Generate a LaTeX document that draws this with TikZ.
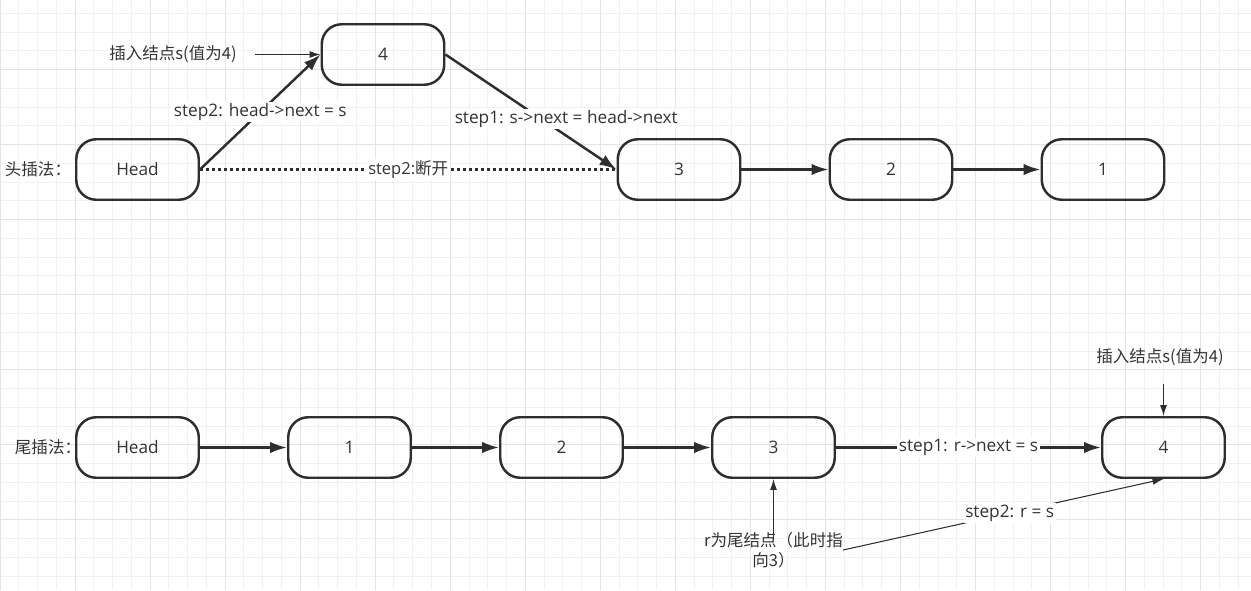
\documentclass[tikz,border=0pt]{standalone}
\usepackage{fontspec}
\setmainfont{Noto Sans CJK SC}
\newfontfamily\latinfont{Open Sans}
\usepackage{tikz}
\usetikzlibrary{arrows.meta, positioning}
\definecolor{linecol}{RGB}{46,46,46}
\definecolor{textcol}{RGB}{51,51,51}
\definecolor{gridminor}{RGB}{241,241,241}
\definecolor{gridmajor}{RGB}{228,228,228}
\tikzset{>={Latex[width=2.3mm,length=3.4mm]}}
\tikzset{
	listnode/.style={draw=linecol, line width=1.4pt, rounded corners=0.4cm, minimum width=2.45cm, minimum height=1.21cm, text=textcol, font=\latinfont\fontsize{9.8pt}{11.3pt}\selectfont},
	notelabel/.style={text=textcol, fill=white, inner sep=1pt, font=\latinfont\fontsize{9.8pt}{11.3pt}\selectfont},
	edgeline/.style={color=linecol, line width=1.4pt},
	thinarrow/.style={draw=linecol, line width=0.6pt, -{Latex[width=1.4mm,length=2.2mm]}}
}

\begin{document}
\begin{tikzpicture}[on grid, node distance = 4.24cm, font=\fontsize{9.4pt}{11.3pt}\selectfont]
			\useasboundingbox (0,0) rectangle (25.02,-11.8);
			\foreach \i in {0,...,66} \draw[gridminor, line width=0.55pt] (\i*0.3752,0) -- (\i*0.3752,-11.8);
			\foreach \k in {0,...,30} \draw[gridminor, line width=0.55pt] (0,-0.266-\k*0.3752) -- (25.02,-0.266-\k*0.3752);
			\foreach \i in {0,...,16} \draw[gridmajor, line width=0.55pt] (\i*1.5008,0) -- (\i*1.5008,-11.8);
			\foreach \k in {0,...,6} \draw[gridmajor, line width=0.55pt] (0,-1.386-\k*1.5008) -- (25.02,-1.386-\k*1.5008);

			\node (head) [listnode] at (2.75,-3.39) {Head};
			\node (four) [listnode, above right = 2.3cm and 4.91cm of head] {4};
			\node (three) [listnode, right = 10.83cm of head] {3};
			\node (two) [listnode, right = of three] {2};
			\node (one) [listnode, right = of two] {1};
			\node (headlabel) [text=textcol, left = 1.99cm of head] {头插法：};
			\node (insertlabel) [text=textcol, minimum width=3.28cm, left = 4.2cm of four] {插入结点s(值为4)};

			\node (thead) [listnode, below = 5.56cm of head] {Head};
			\node (tone) [listnode, right = of thead] {1};
			\node (ttwo) [listnode, right = of tone] {2};
			\node (tthree) [listnode, right = of ttwo] {3};
			\node (tfour) [listnode, right = 7.8cm of tthree] {4};
			\node (tailabel) [text=textcol, left = 1.79cm of thead] {尾插法：};
			\node (tinsert) [text=textcol, minimum height=1.08cm, above = 1.81cm of tfour, xshift=-0.07cm] {插入结点s(值为4)};
			\node (rlabel) [text=textcol, align=center, inner sep=0pt, below = 2.05cm of tthree] {r为尾结点（此时指\\向3）};

			\path[->, edgeline]
			(head.east) edge node [notelabel] {step2: head->next = s} (four.west)
			(four.east) edge node [notelabel, pos = 0.56, xshift = 0.5cm] {step1: s->next = head->next} (three.west)
			(three) edge (two)
			(two) edge (one)
			(thead) edge (tone)
			(tone) edge (ttwo)
			(ttwo) edge (tthree)
			(tthree) edge node [notelabel] {step1: r->next = s} (tfour);
			\draw[edgeline, dash pattern=on 1.7pt off 1.7pt] (head.east) -- node [notelabel, font=\fontsize{9.4pt}{11.3pt}\selectfont] {{\latinfont step2:}断开} (three.west);

			\draw[thinarrow] (insertlabel.east) -- (four.west);
			\draw[thinarrow] (tinsert.south -| tfour.north) -- (tfour.north);
			\draw[thinarrow, shorten <=-0.16cm] (rlabel.north) -- (tthree.south);
			\draw[thinarrow] (rlabel.east) -- node [notelabel, pos = 0.52] {step2: r = s} (tfour.south);
\end{tikzpicture}
\end{document}
